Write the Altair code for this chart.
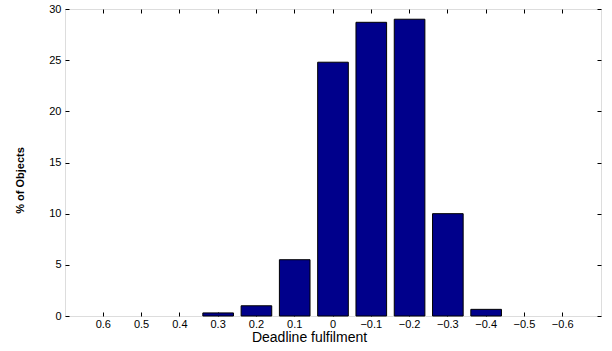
import altair as alt
import pandas as pd

categories = ["0.6", "0.5", "0.4", "0.3", "0.2", "0.1", "0",
              "\u22120.1", "\u22120.2", "\u22120.3", "\u22120.4", "\u22120.5", "\u22120.6"]
percent = [0, 0, 0, 0.3, 1.0, 5.5, 24.8, 28.7, 29.0, 10.0, 0.65, 0, 0]
y_ticks = [0, 5, 10, 15, 20, 25, 30]

df = pd.DataFrame({"cat": categories, "pct": percent})

FONT = "Liberation Sans"
W, H = 536, 307

xscale = alt.Scale(paddingInner=0.2, paddingOuter=0.6)
yscale = alt.Scale(domain=[0, 30], nice=False, zero=True)

base = alt.Chart(df)

main = base.mark_bar(color="#00008B", stroke="black", strokeWidth=1).encode(
    x=alt.X("cat:N", sort=categories, scale=xscale,
            axis=alt.Axis(orient="bottom", title="Deadline fulfilment", labelAngle=0,
                          domain=False, offset=-4, tickSize=4, tickColor="black",
                          labelPadding=2, labelFontSize=11, labelColor="black",
                          labelFont=FONT, titleFont=FONT, titleFontSize=14,
                          titleFontWeight="normal", titleColor="black",
                          titleX=244, titleY=29, titleBaseline="alphabetic")),
    y=alt.Y("pct:Q", scale=yscale,
            axis=alt.Axis(orient="left", title="% of Objects", values=y_ticks,
                          domain=False, offset=-4, tickSize=4, tickColor="black",
                          labelPadding=4, labelFontSize=11, labelColor="black",
                          labelFont=FONT, titleFont=FONT, titleFontSize=11,
                          titleFontWeight="bold", titleColor="black",
                          titleAngle=270, titleX=-49, titleY=171,
                          titleBaseline="middle", titleAlign="center",
                          grid=False)),
    strokeOpacity=alt.condition("datum.pct > 0", alt.value(1), alt.value(0)),
)

frame = base.mark_bar(opacity=0).encode(
    x=alt.X("cat:N", sort=categories, scale=xscale,
            axis=alt.Axis(orient="top", title=None, labels=False, domain=False,
                          offset=-4, tickSize=4, tickColor="black")),
    y=alt.Y("pct:Q", scale=yscale,
            axis=alt.Axis(orient="right", title=None, labels=False, domain=False,
                          values=y_ticks, offset=-4, tickSize=4, tickColor="black",
                          grid=False)),
)

chart = alt.layer(main, frame).resolve_axis(
    x="independent", y="independent"
).properties(
    width=W, height=H,
    autosize=alt.AutoSizeParams(type="none"),
    padding={"left": 65, "top": 9, "right": 11, "bottom": 35},
).configure_view(
    stroke="black", strokeWidth=1
).configure(background="white")

chart.save("out.html", embed_options={"renderer": "svg", "actions": False})
